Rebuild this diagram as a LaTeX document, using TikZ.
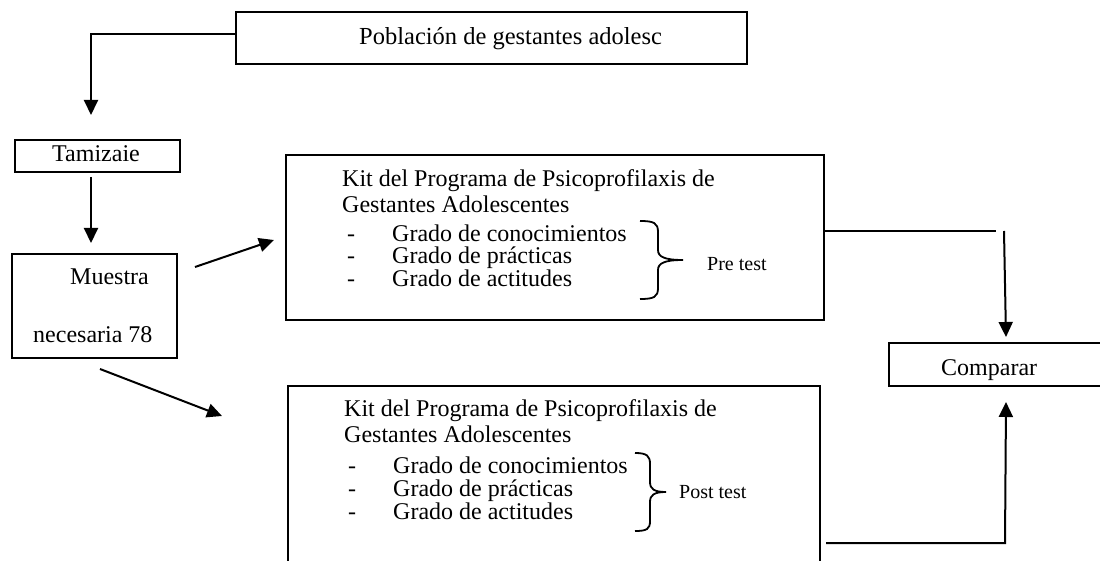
\documentclass[tikz,border=0pt]{standalone}
\usepackage{fontspec}
\setmainfont{Liberation Serif}
\usetikzlibrary{arrows.meta}
\begin{document}
\begin{tikzpicture}[x=1pt,y=-1pt,
  box/.style={draw, line width=1.6pt, inner sep=0pt},
  txt/.style={inner sep=0pt, anchor=base west, font=\fontsize{24}{26}\selectfont},
  small/.style={inner sep=0pt, anchor=base west, font=\fontsize{20}{24}\selectfont},
  arr/.style={line width=2pt, line join=miter, -{Triangle[width=14pt,length=15pt]}},
  conn/.style={line width=1.8pt},
  brc/.style={line width=1.8pt}]
\useasboundingbox (0,0) rectangle (1100,561);
\clip (0,0) rectangle (1100,561);

% boxes
\node[box, minimum width=511pt, minimum height=52pt] (pob) at (491.5,38) {};
\node[txt, font=\fontsize{24.5}{26}\selectfont] (pobt) at (359,45) {Población de gestantes adolesc};

\node[box, minimum width=165pt, minimum height=32pt] (tam) at (97.5,156) {};
\node[txt] (tamt) at (52,162) {Tamizaie};

\node[box, minimum width=165pt, minimum height=104pt] (mue) at (94.5,306) {};
\node[txt] (muea) at (70,285) {Muestra};
\node[txt] (mueb) at (33,342) {necesaria 78};

\node[box, minimum width=538pt, minimum height=165pt] (kit1) at (555,237.5) {};
\node[txt] (k1a) at (342,187) {Kit del Programa de Psicoprofilaxis de};
\node[txt] (k1b) at (342,213) {Gestantes Adolescentes};
\node[txt] (k1d1) at (347,242) {-};
\node[txt] (k1c) at (392,242) {Grado de conocimientos};
\node[txt] (k1d2) at (347,264) {-};
\node[txt] (k1p) at (392,264) {Grado de prácticas};
\node[txt] (k1d3) at (347,287) {-};
\node[txt] (k1t) at (392,287) {Grado de actitudes};
\node[small] (pre) at (707,271) {Pre test};

\node[box, minimum width=532pt, minimum height=214pt] (kit2) at (554,493) {};
\node[txt] (k2a) at (344,416) {Kit del Programa de Psicoprofilaxis de};
\node[txt] (k2b) at (344,442) {Gestantes Adolescentes};
\node[txt] (k2d1) at (348,473) {-};
\node[txt] (k2c) at (393,473) {Grado de conocimientos};
\node[txt] (k2d2) at (348,496) {-};
\node[txt] (k2p) at (393,496) {Grado de prácticas};
\node[txt] (k2d3) at (348,519) {-};
\node[txt] (k2t) at (393,519) {Grado de actitudes};
\node[small] (post) at (679,498) {Post test};

\node[box, minimum width=212pt, minimum height=43pt] (cmp) at (995,364.5) {};
\node[txt] (cmpt) at (941,375) {Comparar};

% braces
\draw[brc] (640,221) .. controls (654,221) and (658,223) .. (658,232) -- (658,250)
  .. controls (658,257) and (665,260) .. (683,260)
  .. controls (665,260) and (658,263) .. (658,270) -- (658,288)
  .. controls (658,297) and (654,299) .. (640,299);
\draw[brc] (635,453) .. controls (647,453) and (650,456) .. (650,464) -- (650,482)
  .. controls (650,489) and (654,492) .. (666,492)
  .. controls (654,492) and (650,495) .. (650,502) -- (650,521)
  .. controls (650,529) and (647,531) .. (635,531);

% connectors
\coordinate (a1) at (91,115);
\draw[arr] ([yshift=4pt]pob.west) -| (a1);

\coordinate (t1) at (91,177);
\coordinate (t2) at (91,243);
\draw[arr] (t1) -- (t2);

\coordinate (m1) at (195,267);
\coordinate (m2) at (274,240);
\draw[arr] (m1) -- (m2);

\coordinate (m3) at (100,369);
\coordinate (m4) at (222,416);
\draw[arr] (m3) -- (m4);

\coordinate (r1) at (996,231);
\draw[conn] ([yshift=6.5pt]kit1.east) -- (r1);
\coordinate (c1s) at (1004,231);
\coordinate (c1e) at (1006,337);
\draw[arr] (c1s) -- (c1e);

\coordinate (b1) at (826,543);
\coordinate (b2) at (1005,543);
\coordinate (b3) at (1006,402);
\draw[arr] (b1) -- (b2) -- (b3);
\end{tikzpicture}
\end{document}
